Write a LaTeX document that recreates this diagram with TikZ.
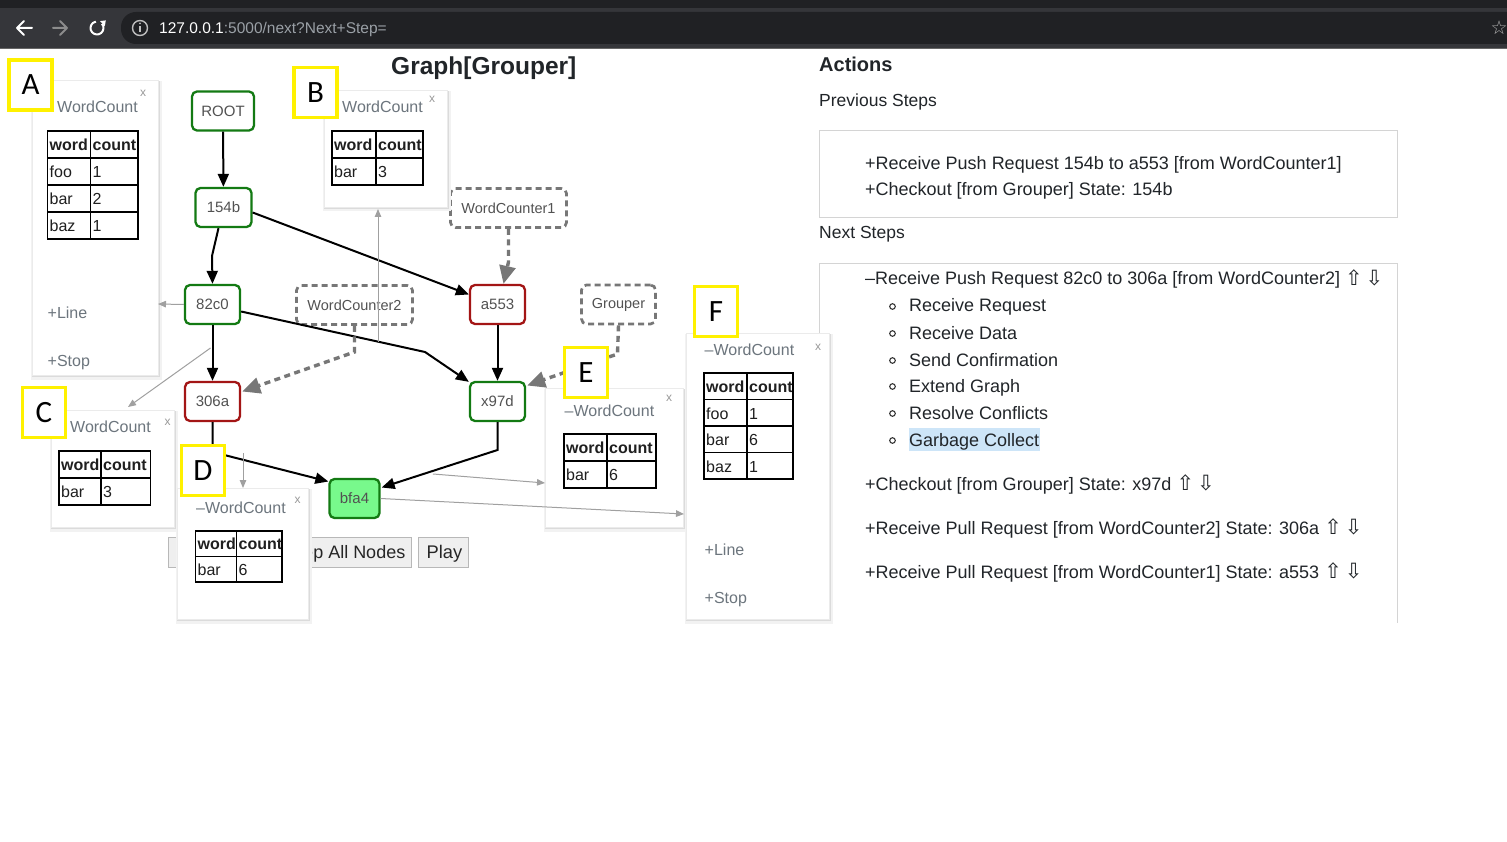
\documentclass[tikz,border=0pt]{standalone}
\usepackage{fontspec}
\setmainfont{Liberation Sans}
\newfontfamily\dejavu{DejaVu Sans}
\newfontfamily\calib{Carlito}
\usetikzlibrary{arrows.meta,calc}
\newcommand\fsz[1]{\fontsize{#1}{#1}\selectfont}
\newcommand\updn{{\dejavu\fsz{21}\raisebox{-0.5pt}{⇧}\hspace{3pt}\raisebox{-0.5pt}{⇩}}}
\definecolor{tabbar}{HTML}{202124}
\definecolor{toolbar}{HTML}{35363A}
\definecolor{omni}{HTML}{202124}
\definecolor{urlgrey}{HTML}{9AA0A6}
\definecolor{ngreen}{HTML}{137A13}
\definecolor{nred}{HTML}{A31515}
\definecolor{nfill}{HTML}{78F98C}
\definecolor{dgrey}{HTML}{777777}
\definecolor{tgrey}{HTML}{A0A0A0}
\definecolor{ptitle}{HTML}{6C757D}
\definecolor{ylw}{HTML}{FFF100}
\definecolor{hl}{HTML}{CDE5F8}
\definecolor{txt}{HTML}{212529}
\definecolor{boxgrey}{HTML}{D4D4D4}
\definecolor{btnfill}{HTML}{EFEFEF}
\definecolor{btnline}{HTML}{B8B8B8}

\gdef\nrows{0}
% table: #1 prefix, #2 left x, #3 split x, #4 right x, #5 top y, #6 row height, #7 rows
\newcommand\wctable[7]{%
  \node[cellb] (#1hw) at (#2+2,#5+0.73*#6) {word};
  \node[cellb] (#1hc) at (#3+2,#5+0.73*#6) {count};
  \foreach \ww/\cc [count=\i] in {#7} {
    \node[cell] (#1w\i) at (#2+2,#5+#6*\i+0.74*#6) {\ww};
    \node[cell] (#1c\i) at (#3+2,#5+#6*\i+0.74*#6) {\cc};
    \draw[tbl] (#2,#5+#6*\i) -- (#4,#5+#6*\i);
    \xdef\nrows{\i}
  }
  \draw[tbl] (#2,#5) rectangle (#4,#5+#6+#6*\nrows);
  \draw[tbl] (#3,#5) -- (#3,#5+#6+#6*\nrows);
}
% popup card: #1 x0 #2 y0 #3 x1 #4 y1
\newcommand\popcard[4]{%
  \fill[black!5] (#1-1.5,#2+1) rectangle (#3+3.5,#4+4.5);
  \fill[black!14] (#1-0.5,#2+1) rectangle (#3+1.8,#4+2.2);
  \fill[white] (#1,#2) rectangle (#3,#4);
  \draw[black!8, line width=0.6pt] (#1,#2) rectangle (#3,#4);
}

\begin{document}
\begin{tikzpicture}[x=1pt,y=-1pt,
  gnode/.style={draw=ngreen, line width=2.3pt, rounded corners=5pt, fill=white,
     minimum width=55pt, minimum height=39pt, inner sep=0pt,
     font={\fsz{15}}, text=black!68},
  rnode/.style={gnode, draw=nred},
  dnode/.style={draw=dgrey, line width=2.7pt, dash pattern=on 6pt off 4pt,
     rounded corners=5pt, minimum height=39pt, inner sep=0pt,
     font={\fsz{14.5}}, text=black!68},
  edge/.style={black, line width=2pt, -{Triangle[length=13pt,width=11pt]}},
  dedge/.style={dgrey, line width=3.4pt, dash pattern=on 6pt off 4.5pt,
     -{Triangle[length=18pt,width=16pt]}},
  tedge/.style={tgrey, line width=1pt, -{Triangle[length=8pt,width=6.5pt]}},
  cell/.style={anchor=base west, inner sep=0pt, font={\fsz{16}}, text=black!88},
  cellb/.style={cell, font={\fsz{16}\bfseries}},
  tbl/.style={black, line width=1.1pt},
  ptxt/.style={anchor=base west, inner sep=0pt, font={\fsz{16}}, text=ptitle},
  xbtn/.style={inner sep=0pt, font={\fsz{12}}, text=black!40},
  rp/.style={anchor=base west, inner sep=0pt, font={\fsz{18}}, text=txt},
  lbl/.style={draw=ylw, line width=3.6pt, fill=white, minimum width=43pt,
     minimum height=50pt, inner sep=0pt, font={\calib\fsz{31}}, text=black},
  btn/.style={fill=btnfill, draw=btnline, line width=1pt},
]
\useasboundingbox (0,0) rectangle (1507,842);
\fill[white] (0,0) rectangle (1507,842);

% ---------- browser chrome ----------
\fill[tabbar] (0,0) rectangle (1507,9);
\fill[toolbar] (0,8.5) rectangle (1507,48.5);
\draw[black!60, line width=0.8pt] (0,48.5) -- (1507,48.5);
\fill[omni, rounded corners=15pt] (121,12) rectangle (1540,44);
\draw[white, line width=2pt, line cap=round, line join=round] (32,28) -- (17,28) (24,21) -- (17,28) -- (24,35);
\draw[black!45, line width=2pt, line cap=round, line join=round] (53,28) -- (67,28) (60,21) -- (67,28) -- (60,35);
\begin{scope}[shift={(97,28)}, yscale=-1]
  \draw[white, line width=2pt] (40:6.5) arc (40:-260:6.5);
  \fill[white] (3.0,6.9) -- (8.8,7.6) -- (7.8,1.8) -- cycle;
\end{scope}
\draw[black!25, line width=1.4pt] (140,28) circle (7.5);
\fill[black!25] (139.2,26) rectangle (140.8,32.5);
\fill[black!25] (140,23.5) circle (1);
\node[anchor=base west, inner sep=0pt, font={\fsz{15.5}}] (url) at (159,33.5)
  {\textcolor{white}{127.0.0.1}\textcolor{urlgrey}{:5000/next?Next+Step=}};
\node[inner sep=0pt, font={\dejavu\fsz{19}}, text=black!30] (star) at (1499,28) {☆};

% ---------- title ----------
\node[anchor=base west, inner sep=0pt, font={\fsz{24.5}\bfseries}, text=txt] (title) at (391,75) {Graph[Grouper]};

% ---------- right panel ----------
\node[anchor=base west, inner sep=0pt, font={\fsz{20}\bfseries}, text=txt] (actions) at (819,72) {Actions};
\node[anchor=base west, inner sep=0pt, font={\fsz{17.5}}, text=txt] (prevh) at (819,107) {Previous Steps};
\draw[boxgrey, line width=1pt] (819,131) rectangle (1397,218);
\node[rp] (pr1) at (865,170) {+Receive Push Request 154b to a553 [from WordCounter1]};
\node[rp] (pr2) at (865,196) {+Checkout [from Grouper] State: 154b};
\node[anchor=base west, inner sep=0pt, font={\fsz{17.5}}, text=txt] (nexth) at (819,239) {Next Steps};
\draw[boxgrey, line width=1pt] (819,623) -- (819,264) -- (1397,264) -- (1397,623);
\node[rp] (ns1) at (865,285) {–Receive Push Request 82c0 to 306a [from WordCounter2] \updn};
\fill[hl] (909,428) rectangle (1040,451);
\foreach \t/\yy [count=\k] in {Receive Request/312, Receive Data/339, Send Confirmation/366,
   Extend Graph/392, Resolve Conflicts/419, Garbage Collect/446} {
  \draw[black!80, line width=1.1pt] (892.5,\yy-5.5) circle (2.8);
  \node[rp] (sub\k) at (909,\yy) {\t};
}
\node[rp] (ns2) at (865,490) {+Checkout [from Grouper] State: x97d \updn};
\node[rp] (ns3) at (865,534) {+Receive Pull Request [from WordCounter2] State: 306a \updn};
\node[rp] (ns4) at (865,578) {+Receive Pull Request [from WordCounter1] State: a553 \updn};

% ---------- graph nodes ----------
\node[gnode, minimum width=62pt] (root) at (223,111) {ROOT};
\node[gnode, minimum width=56pt] (b154) at (223.5,207.5) {154b};
\node[gnode] (c82) at (212.5,304.5) {82c0};
\node[rnode] (s306) at (212.5,401.5) {306a};
\node[rnode] (a553) at (497.5,304.5) {a553};
\node[gnode] (x97d) at (497.5,401.5) {x97d};
\node[gnode, fill=nfill, minimum width=50pt] (bfa4) at (354.5,498.5) {bfa4};
\node[dnode, minimum width=116pt] (wc1) at (508.5,208) {WordCounter1};
\node[dnode, minimum width=116pt] (wc2) at (354.5,305) {WordCounter2};
\node[dnode, minimum width=74pt] (grp) at (618.5,304.5) {Grouper};

% bend points
\coordinate (k1) at (212,256);
\coordinate (k2) at (425,352);
\coordinate (k3) at (212.5,452);
\coordinate (k4) at (497.5,450);
\coordinate (k5) at (354.5,352);
\coordinate (k6) at (617.5,354);
\coordinate (k7) at (508.5,262);

% ---------- black edges ----------
\draw[edge] (root) -- (b154);
\draw[edge] ($(b154.south)+(-5,0)$) -- (k1) -- (c82.north);
\draw[edge] ($(b154.east)+(0,5)$) -- ($(a553.west)+(0,-10)$);
\draw[edge] ($(c82.east)+(0,7)$) -- (k2) -- ($(x97d.north west)+(0,1)$);
\draw[edge] (c82) -- (s306);
\draw[edge] (a553) -- (x97d);
\draw[edge] (s306.south) -- (k3) -- ($(bfa4.west)+(0,-17)$);
\draw[edge] (x97d.south) -- (k4) -- ($(bfa4.east)+(1,-11)$);

% ---------- dashed edges ----------
\draw[dedge] (wc1.south) -- (k7) -- ($(a553.north)+(6,0)$);
\draw[dedge] (wc2.south) -- (k5) -- ($(s306.east)+(1,-10)$);
\draw[dedge] (grp.south) -- (k6) -- ($(x97d.east)+(1,-16)$);

% ---------- popups ----------
% A
\popcard{32}{80}{158}{375}
\node[ptxt] (ta) at (57,113) {WordCount};
\node[xbtn] (xa) at (143,93) {x};
\wctable{A}{47.5}{90.5}{138}{131}{27}{foo/1, bar/2, baz/1}
\node[ptxt] (la) at (47.5,318) {+Line};
\node[ptxt] (sa) at (47.5,366) {+Stop};
% B
\popcard{324}{90}{447}{207}
\node[ptxt] (tb) at (342,113) {WordCount};
\node[xbtn] (xb) at (432,99) {x};
\wctable{B}{332}{376}{423}{131}{27}{bar/3}
% C
\popcard{51}{410}{174}{527}
\node[ptxt] (tc) at (70,432) {WordCount};
\node[xbtn] (xc) at (167.5,422) {x};
\wctable{C}{59}{101}{150.5}{451}{27}{bar/3}
% E
\popcard{545}{388}{683}{527}
\node[ptxt] (te) at (564.5,416) {–WordCount};
\node[xbtn] (xe) at (669,398) {x};
\wctable{E}{564}{607}{656}{434}{27}{bar/6}
% F
\popcard{686}{333}{829}{619}
\node[ptxt] (tf) at (704.5,355) {–WordCount};
\node[xbtn] (xf) at (818,347) {x};
\wctable{F}{704}{747}{793}{373}{26.5}{foo/1, bar/6, baz/1}
\node[ptxt] (lf) at (704.5,555) {+Line};
\node[ptxt] (sf) at (704.5,603) {+Stop};

% ---------- buttons ----------
\draw[btn] (168,537) rectangle (262,567);
\draw[btn] (270,537) rectangle (411,567);
\node[anchor=base east, inner sep=0pt, font={\fsz{18}}, text=black!85] (bstep) at (405.5,558) {Step All Nodes};
\draw[btn] (418,537) rectangle (468,567);
\node[anchor=base west, inner sep=0pt, font={\fsz{18.3}}, text=black!85] (bplay) at (426.5,558) {Play};

% D (over the buttons)
\popcard{177}{488}{308}{619}
\node[ptxt] (td) at (196,513) {–WordCount};
\node[xbtn] (xd) at (297.5,500) {x};
\wctable{D}{195.5}{236.5}{282}{531}{25.5}{bar/6}

% ---------- thin grey connectors ----------
\coordinate (pA) at (158,304);
\coordinate (c0) at (210.5,348);
\coordinate (pC) at (128,407);
\coordinate (b0) at (378,342);
\coordinate (pB) at (378,209);
\coordinate (d0) at (243,453);
\coordinate (pD) at (243,488);
\coordinate (e0) at (433,474);
\coordinate (pE) at (545,483);
\coordinate (pF) at (684,514);
\draw[tedge] (c82.west) -- (pA);
\draw[tedge] (c0) -- (pC);
\draw[tedge] (b0) -- (pB);
\draw[tedge] (d0) -- (pD);
\draw[tedge] (e0) -- (pE);
\draw[tedge] (bfa4.east) -- (pF);

% ---------- yellow labels ----------
\node[lbl] (LA) at (30.5,85) {A};
\node[lbl] (LB) at (315.5,92.5) {B};
\node[lbl] (LC) at (44,412.5) {C};
\node[lbl] (LD) at (203,470.5) {D};
\node[lbl] (LE) at (586,372.5) {E};
\node[lbl] (LF) at (716,311.5) {F};
\end{tikzpicture}
\end{document}
